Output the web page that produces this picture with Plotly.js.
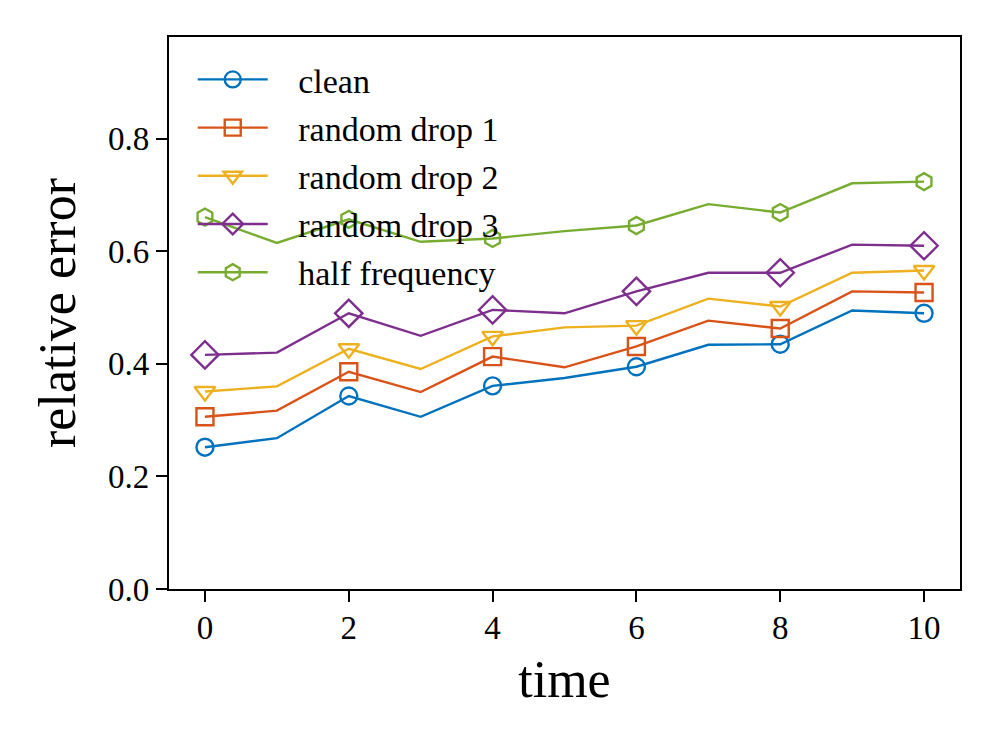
<!DOCTYPE html>
<html>
<head>
<meta charset="utf-8">
<script src="https://cdn.plot.ly/plotly-3.0.1.min.js"></script>
<style>html,body{margin:0;padding:0;background:#fff;}#chart{width:996px;height:747px;}</style>
</head>
<body>
<div id="chart"></div>
<script>
const time = [0, 1, 2, 3, 4, 5, 6, 7, 8, 9, 10];
const seriesNames = ["clean", "random drop 1", "random drop 2", "random drop 3", "half frequency"];
const clean = [0.252, 0.268, 0.343, 0.306, 0.361, 0.375, 0.395, 0.434, 0.435, 0.495, 0.490];
const randomDrop1 = [0.306, 0.317, 0.386, 0.350, 0.413, 0.394, 0.431, 0.477, 0.463, 0.529, 0.527];
const randomDrop2 = [0.351, 0.360, 0.427, 0.391, 0.449, 0.465, 0.468, 0.516, 0.502, 0.562, 0.566];
const randomDrop3 = [0.416, 0.420, 0.490, 0.450, 0.496, 0.490, 0.529, 0.562, 0.562, 0.612, 0.610];
const halfFrequency = [0.661, 0.615, 0.657, 0.617, 0.623, 0.636, 0.646, 0.684, 0.669, 0.721, 0.724];
const xTicks = [0, 2, 4, 6, 8, 10];
const yTicks = [0.0, 0.2, 0.4, 0.6, 0.8];

const allSeries = [clean, randomDrop1, randomDrop2, randomDrop3, halfFrequency];
const colors = ["#0072BD", "#D95319", "#EDB120", "#7E2F8E", "#77AC30"];
const symbols = ["circle-open", "square-open", "triangle-down-open", "diamond-open", "hexagon-open"];
const sizes = [17, 17, 18, 21, 17];

const pad = "\u00a0\u00a0\u00a0";
const traces = allSeries.map((ys, i) => {
  const mcol = time.map((t, j) => (j % 2 === 0 ? colors[i] : "rgba(0,0,0,0)"));
  return {
    x: time,
    y: ys,
    name: pad + seriesNames[i],
    legendgroup: "g" + i,
    type: "scatter",
    mode: "lines+markers",
    line: {color: colors[i], width: 2.4},
    marker: {symbol: symbols[i], size: sizes[i], color: mcol,
             line: {color: mcol, width: 2.4}}
  };
});

const font = "Liberation Serif, Times New Roman, serif";
const layout = {
  width: 996, height: 747,
  margin: {l: 169, r: 36, t: 37, b: 158},
  paper_bgcolor: "#fff", plot_bgcolor: "#fff",
  font: {family: font, color: "#000", size: 33},
  showlegend: true,
  legend: {x: 0.03, y: 0.975, xanchor: "left", yanchor: "top",
           bgcolor: "rgba(0,0,0,0)", borderwidth: 0,
           traceorder: "grouped", tracegroupgap: 1,
           font: {family: font, size: 34, color: "#000"}, itemwidth: 70},
  xaxis: {range: [-0.5, 10.5], tickvals: xTicks, ticktext: xTicks.map(String),
          ticks: "outside", ticklen: 11, tickwidth: 2, tickcolor: "#000",
          ticklabelstandoff: -3,
          showline: true, linecolor: "#000", linewidth: 2.2, mirror: true,
          showgrid: false, zeroline: false,
          tickfont: {family: font, size: 33, color: "#000"},
          title: {text: "time", font: {family: font, size: 52, color: "#000"}, standoff: 16}},
  yaxis: {range: [0, 0.981], tickvals: yTicks, ticktext: yTicks.map(v => v.toFixed(1)),
          ticks: "outside", ticklen: 11, tickwidth: 2, tickcolor: "#000",
          showline: true, linecolor: "#000", linewidth: 2.2, mirror: true,
          showgrid: false, zeroline: false,
          tickfont: {family: font, size: 33, color: "#000"},
          title: {text: "relative error", font: {family: font, size: 52, color: "#000"}, standoff: 16}}
};

Plotly.newPlot("chart", traces, layout, {displayModeBar: false, staticPlot: true});
</script>
</body>
</html>
